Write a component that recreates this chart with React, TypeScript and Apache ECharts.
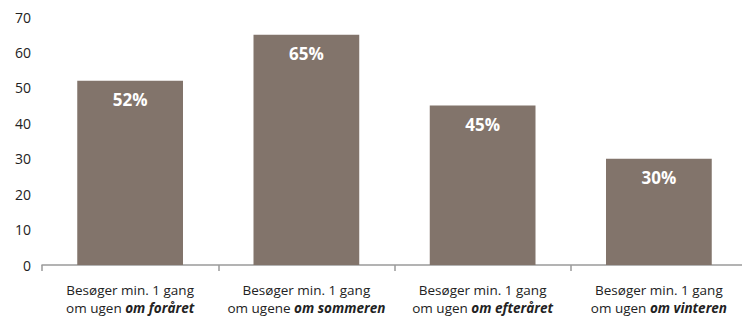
import React, { useEffect, useRef } from "react";
import * as echarts from "echarts";

const categoryLine1 = ["Besøger min. 1 gang", "Besøger min. 1 gang", "Besøger min. 1 gang", "Besøger min. 1 gang"];
const categoryPrefix = ["om ugen", "om ugene", "om ugen", "om ugen"];
const categoryEmph = ["om foråret", "om sommeren", "om efteråret", "om vinteren"];
const values = [52, 65, 45, 30];
const yTicks = { min: 0, max: 70, interval: 10 };

export default function App() {
  const ref = useRef<HTMLDivElement>(null);
  useEffect(() => {
    if (!ref.current) return;
    const chart = echarts.init(ref.current, undefined, { renderer: "svg" });
    const cats = categoryLine1.map((l, i) => `${l}\n${categoryPrefix[i]} {b|${categoryEmph[i]}}`);
    chart.setOption({
      animation: false,
      grid: { left: 42, right: 0, top: 17, bottom: 52, containLabel: false },
      xAxis: {
        type: "category",
        data: cats,
        axisLine: { lineStyle: { color: "#9a9a9a", width: 1.5 } },
        axisTick: { show: true, length: 6, lineStyle: { color: "#9a9a9a", width: 1.5 } },
        axisLabel: {
          interval: 0,
          margin: 16,
          color: "#222",
          fontFamily: "Open Sans",
          fontSize: 13.5,
          lineHeight: 18,
          rich: {
            b: { fontWeight: "bold", fontStyle: "italic", fontFamily: "Open Sans", fontSize: 13.5, color: "#222", lineHeight: 18 },
          },
        },
      },
      yAxis: {
        type: "value",
        min: yTicks.min,
        max: yTicks.max,
        interval: yTicks.interval,
        splitLine: { show: false },
        axisLine: { show: false },
        axisTick: { show: false },
        axisLabel: { color: "#222", fontFamily: "Open Sans", fontSize: 14, margin: 11 },
      },
      series: [
        {
          type: "bar",
          data: values,
          barWidth: "60%",
          itemStyle: { color: "#82746b" },
          label: {
            show: true,
            position: "insideTop",
            distance: 10,
            formatter: "{c}%",
            color: "#fff",
            fontWeight: "bold",
            fontFamily: "Open Sans",
            fontSize: 17,
          },
        },
      ],
    });
    return () => chart.dispose();
  }, []);
  return (
    <div style={{ width: 742, height: 317, position: "absolute", left: 0, top: 0, overflow: "hidden" }}>
      <div ref={ref} style={{ width: 747, height: 317 }} />
    </div>
  );
}
